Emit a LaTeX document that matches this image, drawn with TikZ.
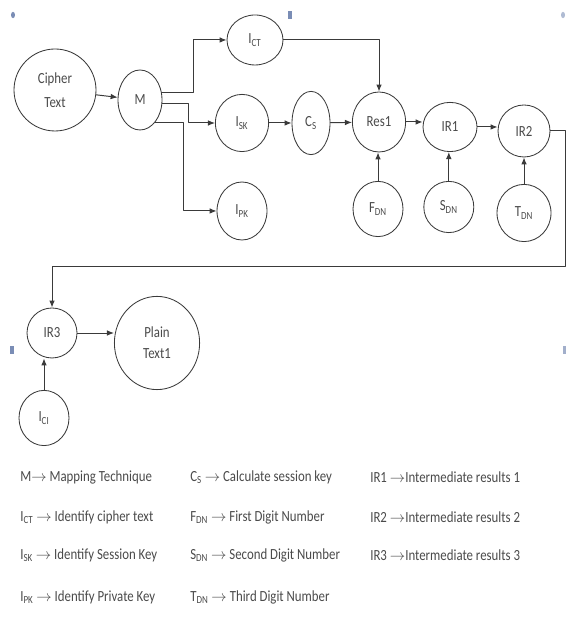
\documentclass[tikz,border=0pt]{standalone}
\usepackage{fontspec}
\setmainfont[FakeStretch=0.83]{Carlito}
\usetikzlibrary{shapes.geometric,arrows.meta}

\newcommand{\lowsub}[1]{\textsubscript{#1}}
\definecolor{inkgray}{HTML}{3A3A3A}
\definecolor{textgray}{HTML}{4A4A4A}
\definecolor{anchorblue}{HTML}{7A8DB5}

\begin{document}
\begin{tikzpicture}[
    line cap=round,
    line join=round,
    state/.style={
        draw=inkgray,
        line width=0.6pt,
        ellipse,
        inner sep=0pt,
        align=center,
        text=textgray
    },
    link/.style={
        draw=inkgray,
        line width=0.7pt,
        -{Latex[length=5pt,width=4pt]}
    },
    legend/.style={
        anchor=west,
        inner sep=0pt,
        text=textgray
    },
    every node/.style={
        font=\fontsize{11}{13}\selectfont
    }
]

\useasboundingbox (0,0) rectangle (14.15,15.775);

% =================================================
% Metki na polyakh
% =================================================

\fill[anchorblue] (0.325,15.4) ellipse (0.05 and 0.08);
\fill[anchorblue] (7.2,15.3) rectangle (7.3,15.5);
\fill[anchorblue!60] (14.075,15.4) ellipse (0.05 and 0.08);
\fill[anchorblue] (0.25,6.92) rectangle (0.35,7.12);
\fill[anchorblue!70] (14.07,6.92) rectangle (14.15,7.12);

% =================================================
% Uzly verkhnego ryada
% =================================================

\node[state, minimum width=2.05cm, minimum height=2.05cm]
    (cipher) at (1.375,13.525) {Cipher\\[4pt]Text};
\node[state, minimum width=1.1cm, minimum height=1.5cm]
    (map) at (3.5,13.275) {M};

\node[state, minimum width=1.4cm, minimum height=1.25cm]
    (ict) at (6.375,14.775) {I\lowsub{CT}};
\node[state, minimum width=1.33cm, minimum height=1.43cm]
    (isk) at (6.05,12.7) {I\lowsub{SK}};
\node[state, minimum width=1.25cm, minimum height=1.45cm]
    (ipk) at (6.05,10.5) {I\lowsub{PK}};

\node[state, minimum width=0.95cm, minimum height=1.58cm]
    (cs) at (7.775,12.7) {C\lowsub{S}};
\node[state, minimum width=1.33cm, minimum height=1.5cm]
    (res) at (9.475,12.725) {Res1};
\node[state, minimum width=1.35cm, minimum height=1.23cm]
    (ir1) at (11.25,12.6) {IR1};
\node[state, minimum width=1.3cm, minimum height=1.3cm]
    (ir2) at (13.1,12.5) {IR2};

\node[state, minimum width=1.25cm, minimum height=1.38cm]
    (fdn) at (9.45,10.55) {F\lowsub{DN}};
\node[state, minimum width=1.25cm, minimum height=1.28cm]
    (sdn) at (11.22,10.6) {S\lowsub{DN}};
\node[state, minimum width=1.35cm, minimum height=1.43cm]
    (tdn) at (13.1,10.45) {T\lowsub{DN}};

% =================================================
% Uzly nizhnego ryada
% =================================================

\node[state, minimum width=1.25cm, minimum height=1.25cm]
    (ir3) at (1.3,7.45) {IR3};
\node[state, minimum width=2.13cm, minimum height=2.33cm]
    (plain) at (3.925,7.2) {Plain\\[2pt]Text1};
\node[state, minimum width=1.25cm, minimum height=1.38cm]
    (ici) at (1.1,5.325) {I\lowsub{CI}};

% Tochki izgiba
\coordinate (bendA) at (4.825,0);
\coordinate (bendB) at (4.7,0);
\coordinate (bendC) at (4.575,0);
\coordinate (turnR) at (14.125,9.1);

% =================================================
% Strelki
% =================================================

\draw[link] (cipher) -- (map);

\draw[link] (map.20)  -- (map.20 -| bendA)  |- (ict);
\draw[link] (map.-8)  -- (map.-8 -| bendB)  |- (isk);
\draw[link] (map.-56) -- (map.-56 -| bendC) |- (ipk);

\draw[link] (ict) -| (res);
\draw[link] (isk) -- (cs);
\draw[link] (cs) -- (res);
\draw[link] (res.east) -- (ir1.west |- res.east);
\draw[link] (ir1.east) -- (ir2.west |- ir1.east);

\draw[link] (fdn.north) -- (fdn.north |- res.south);
\draw[link] (sdn.north) -- (sdn.north |- ir1.south);
\draw[link] (tdn.north) -- (tdn.north |- ir2.south);

\draw[link] (ir2) -| (turnR) -| (ir3);
\draw[link] (ir3.east) -- (ir3.east -| plain.west);
\draw[link] (ici.north) -- (ici.north |- ir3.south);

% =================================================
% Legenda
% =================================================

\node[legend] (legM)   at (0.5,3.85)  {M$\rightarrow$ Mapping Technique};
\node[legend] (legICT) at (0.5,2.85)  {I\lowsub{CT} $\rightarrow$ Identify cipher text};
\node[legend] (legISK) at (0.5,1.9)   {I\lowsub{SK} $\rightarrow$ Identify Session Key};
\node[legend] (legIPK) at (0.5,0.85)  {I\lowsub{PK} $\rightarrow$ Identify Private Key};

\node[legend] (legCS)  at (4.75,3.85) {C\lowsub{S} $\rightarrow$ Calculate session key};
\node[legend] (legFDN) at (4.75,2.85) {F\lowsub{DN} $\rightarrow$ First Digit Number};
\node[legend] (legSDN) at (4.75,1.9)  {S\lowsub{DN} $\rightarrow$ Second Digit Number};
\node[legend] (legTDN) at (4.75,0.85) {T\lowsub{DN} $\rightarrow$ Third Digit Number};

\node[legend] (legIR1) at (9.25,3.85) {IR1 $\rightarrow$Intermediate results 1};
\node[legend] (legIR2) at (9.25,2.85) {IR2 $\rightarrow$Intermediate results 2};
\node[legend] (legIR3) at (9.25,1.9)  {IR3 $\rightarrow$Intermediate results 3};

\end{tikzpicture}
\end{document}
